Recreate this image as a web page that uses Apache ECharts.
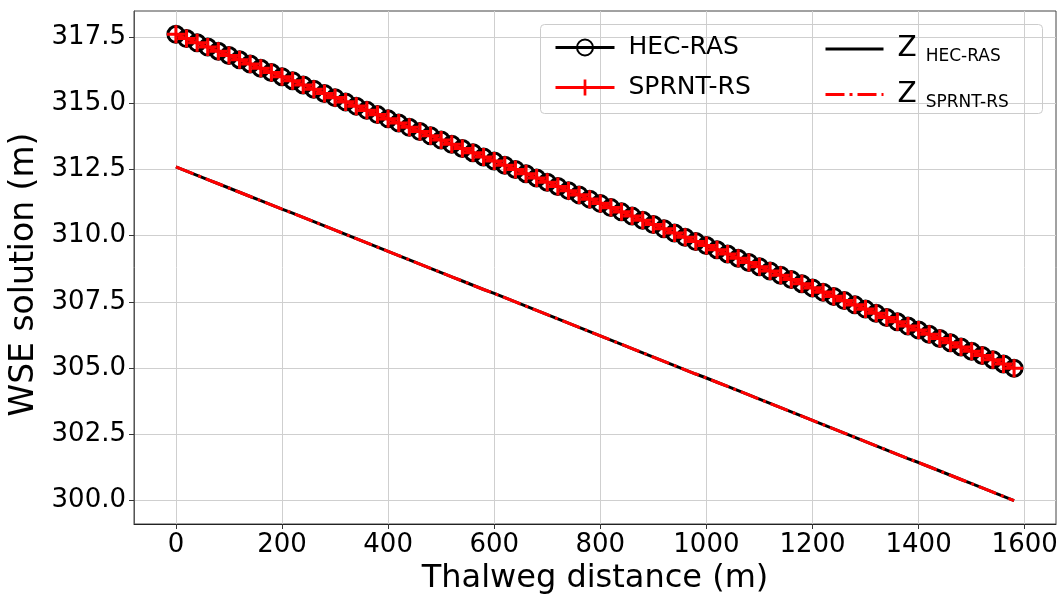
<!DOCTYPE html>
<html>
<head>
<meta charset="utf-8">
<script src="https://cdn.jsdelivr.net/npm/echarts@6/dist/echarts.min.js"></script>
<style>
html,body{margin:0;padding:0;background:#fff;}
#chart{width:1062px;height:594px;}
</style>
</head>
<body>
<div id="chart"></div>
<script>
// Thalweg distance (m)
const distance = [0,20,40,60,80,100,120,140,160,180,200,220,240,260,280,300,320,340,360,380,
400,420,440,460,480,500,520,540,560,580,600,620,640,660,680,700,720,740,760,780,
800,820,840,860,880,900,920,940,960,980,1000,1020,1040,1060,1080,1100,1120,1140,1160,1180,
1200,1220,1240,1260,1280,1300,1320,1340,1360,1380,1400,1420,1440,1460,1480,1500,1520,1540,1560,1580];

// Water surface elevation, HEC-RAS (m)
const wseHecRas = [317.60,317.44,317.28,317.12,316.96,316.80,316.64,316.48,316.32,316.16,
316.00,315.85,315.69,315.53,315.37,315.21,315.05,314.89,314.73,314.57,
314.41,314.25,314.09,313.93,313.77,313.61,313.45,313.29,313.13,312.97,
312.82,312.66,312.50,312.34,312.18,312.02,311.86,311.70,311.54,311.38,
311.22,311.06,310.90,310.74,310.58,310.42,310.26,310.10,309.94,309.78,
309.63,309.47,309.31,309.15,308.99,308.83,308.67,308.51,308.35,308.19,
308.03,307.87,307.71,307.55,307.39,307.23,307.07,306.91,306.75,306.59,
306.44,306.28,306.12,305.96,305.80,305.64,305.48,305.32,305.16,305.00];

// Water surface elevation, SPRNT-RS (m)
const wseSprnt = [317.60,317.44,317.28,317.12,316.96,316.80,316.64,316.48,316.32,316.16,
316.00,315.85,315.69,315.53,315.37,315.21,315.05,314.89,314.73,314.57,
314.41,314.25,314.09,313.93,313.77,313.61,313.45,313.29,313.13,312.97,
312.82,312.66,312.50,312.34,312.18,312.02,311.86,311.70,311.54,311.38,
311.22,311.06,310.90,310.74,310.58,310.42,310.26,310.10,309.94,309.78,
309.63,309.47,309.31,309.15,308.99,308.83,308.67,308.51,308.35,308.19,
308.03,307.87,307.71,307.55,307.39,307.23,307.07,306.91,306.75,306.59,
306.44,306.28,306.12,305.96,305.80,305.64,305.48,305.32,305.16,305.00];

// Bed elevation Z, HEC-RAS (m)
const zHecRas = [312.60,312.44,312.28,312.12,311.96,311.80,311.64,311.48,311.32,311.16,
311.00,310.85,310.69,310.53,310.37,310.21,310.05,309.89,309.73,309.57,
309.41,309.25,309.09,308.93,308.77,308.61,308.45,308.29,308.13,307.97,
307.82,307.66,307.50,307.34,307.18,307.02,306.86,306.70,306.54,306.38,
306.22,306.06,305.90,305.74,305.58,305.42,305.26,305.10,304.94,304.78,
304.63,304.47,304.31,304.15,303.99,303.83,303.67,303.51,303.35,303.19,
303.03,302.87,302.71,302.55,302.39,302.23,302.07,301.91,301.75,301.59,
301.44,301.28,301.12,300.96,300.80,300.64,300.48,300.32,300.16,300.00];

// Bed elevation Z, SPRNT-RS (m)
const zSprnt = [312.60,312.44,312.28,312.12,311.96,311.80,311.64,311.48,311.32,311.16,
311.00,310.85,310.69,310.53,310.37,310.21,310.05,309.89,309.73,309.57,
309.41,309.25,309.09,308.93,308.77,308.61,308.45,308.29,308.13,307.97,
307.82,307.66,307.50,307.34,307.18,307.02,306.86,306.70,306.54,306.38,
306.22,306.06,305.90,305.74,305.58,305.42,305.26,305.10,304.94,304.78,
304.63,304.47,304.31,304.15,303.99,303.83,303.67,303.51,303.35,303.19,
303.03,302.87,302.71,302.55,302.39,302.23,302.07,301.91,301.75,301.59,
301.44,301.28,301.12,300.96,300.80,300.64,300.48,300.32,300.16,300.00];

const xTicks = [0,200,400,600,800,1000,1200,1400,1600];
const yTicks = [300.0,302.5,305.0,307.5,310.0,312.5,315.0,317.5];

const pair = (xs, ys) => xs.map((x, i) => [x, ys[i]]);
const FONT = '"DejaVu Sans", sans-serif';
const plusPath = 'path://M-1,-0.17 L1,-0.17 L1,0.17 L-1,0.17 Z M-0.17,-1 L0.17,-1 L0.17,1 L-0.17,1 Z';

const chart = echarts.init(document.getElementById('chart'), null, {renderer: 'canvas'});
const option = {
  animation: false,
  backgroundColor: '#ffffff',
  textStyle: {fontFamily: FONT},
  grid: {left: 134, right: 6, top: 11, bottom: 70, containLabel: false, outerBoundsMode: 'none',
    show: true, borderColor: '#444', borderWidth: 1, backgroundColor: 'transparent'},
  xAxis: {
    type: 'value', min: -79, max: 1659,
    name: 'Thalweg distance (m)', nameLocation: 'middle', nameGap: 38,
    nameTextStyle: {fontSize: 32, color: '#000', fontFamily: FONT},
    axisLine: {show: true, onZero: false, lineStyle: {color: '#222', width: 1}},
    axisTick: {show: true, length: 5, customValues: xTicks, lineStyle: {color: '#333'}},
    axisLabel: {customValues: xTicks, fontSize: 26, color: '#000', margin: 8, fontFamily: FONT,
      formatter: v => String(v)},
    splitLine: {show: true, lineStyle: {color: '#cfcfcf', width: 1}}
  },
  yAxis: {
    type: 'value', min: 299.12, max: 318.48,
    name: 'WSE solution (m)', nameLocation: 'middle', nameGap: 86,
    nameTextStyle: {fontSize: 33, color: '#000', fontFamily: FONT, padding: [0, 14, 0, 0]},
    axisLine: {show: true, onZero: false, lineStyle: {color: '#555', width: 1}},
    axisTick: {show: true, length: 5, customValues: yTicks, lineStyle: {color: '#333'}},
    axisLabel: {customValues: yTicks, fontSize: 26, color: '#000', margin: 8, fontFamily: FONT,
      formatter: v => Number(v).toFixed(1)},
    splitLine: {show: true, lineStyle: {color: '#cfcfcf', width: 1}}
  },
  legend: [
    {
      data: ['HEC-RAS', 'SPRNT-RS'], orient: 'vertical', left: 549, top: 30,
      itemWidth: 59, itemHeight: 20, itemGap: 15,
      lineStyle: {width: 3},
      textStyle: {fontSize: 25, color: '#000', fontFamily: FONT, padding: [0, 0, 0, 9]}
    },
    {
      data: [{name: 'Z_HEC-RAS', itemStyle: {opacity: 0}}, {name: 'Z_SPRNT-RS', itemStyle: {opacity: 0}}],
      orient: 'vertical', left: 819, top: 30,
      itemWidth: 58, itemHeight: 20, itemGap: 15,
      lineStyle: {width: 3},
      formatter: n => '{z|Z}{s|' + n.replace('Z_', '') + '}',
      textStyle: {color: '#000', fontFamily: FONT, padding: [0, 0, 0, 9],
        rich: {
          z: {fontSize: 28, color: '#000', fontFamily: FONT},
          s: {fontSize: 17, color: '#000', fontFamily: FONT, padding: [16, 0, 0, 9]}
        }}
    }
  ],
  graphic: [{
    type: 'rect', z: 100, silent: true,
    shape: {x: 540.5, y: 24.5, width: 502, height: 89, r: 4},
    style: {fill: 'rgba(255,255,255,0)', stroke: '#cccccc', lineWidth: 1}
  }],
  series: [
    {
      name: 'HEC-RAS', type: 'line', data: pair(distance, wseHecRas),
      symbol: 'circle', symbolSize: 16, showAllSymbol: true,
      lineStyle: {color: '#000', width: 3},
      itemStyle: {color: 'rgba(255,255,255,0)', borderColor: '#000', borderWidth: 3},
      emphasis: {disabled: true}, z: 2
    },
    {
      name: 'SPRNT-RS', type: 'line', data: pair(distance, wseSprnt),
      symbol: plusPath, symbolSize: 18, showAllSymbol: true,
      lineStyle: {color: '#ff0000', width: 3},
      itemStyle: {color: '#ff0000', borderWidth: 0},
      emphasis: {disabled: true}, z: 3
    },
    {
      name: 'Z_HEC-RAS', type: 'line', data: pair(distance, zHecRas),
      symbol: 'none', showSymbol: false,
      lineStyle: {color: '#000', width: 3},
      itemStyle: {color: '#000'},
      emphasis: {disabled: true}, z: 2
    },
    {
      name: 'Z_SPRNT-RS', type: 'line', data: pair(distance, zSprnt),
      symbol: 'none', showSymbol: false,
      lineStyle: {color: '#ff0000', width: 3, type: [19, 5, 3, 5]},
      itemStyle: {color: '#ff0000'},
      emphasis: {disabled: true}, z: 3
    }
  ]
};
chart.setOption(option);
</script>
</body>
</html>
